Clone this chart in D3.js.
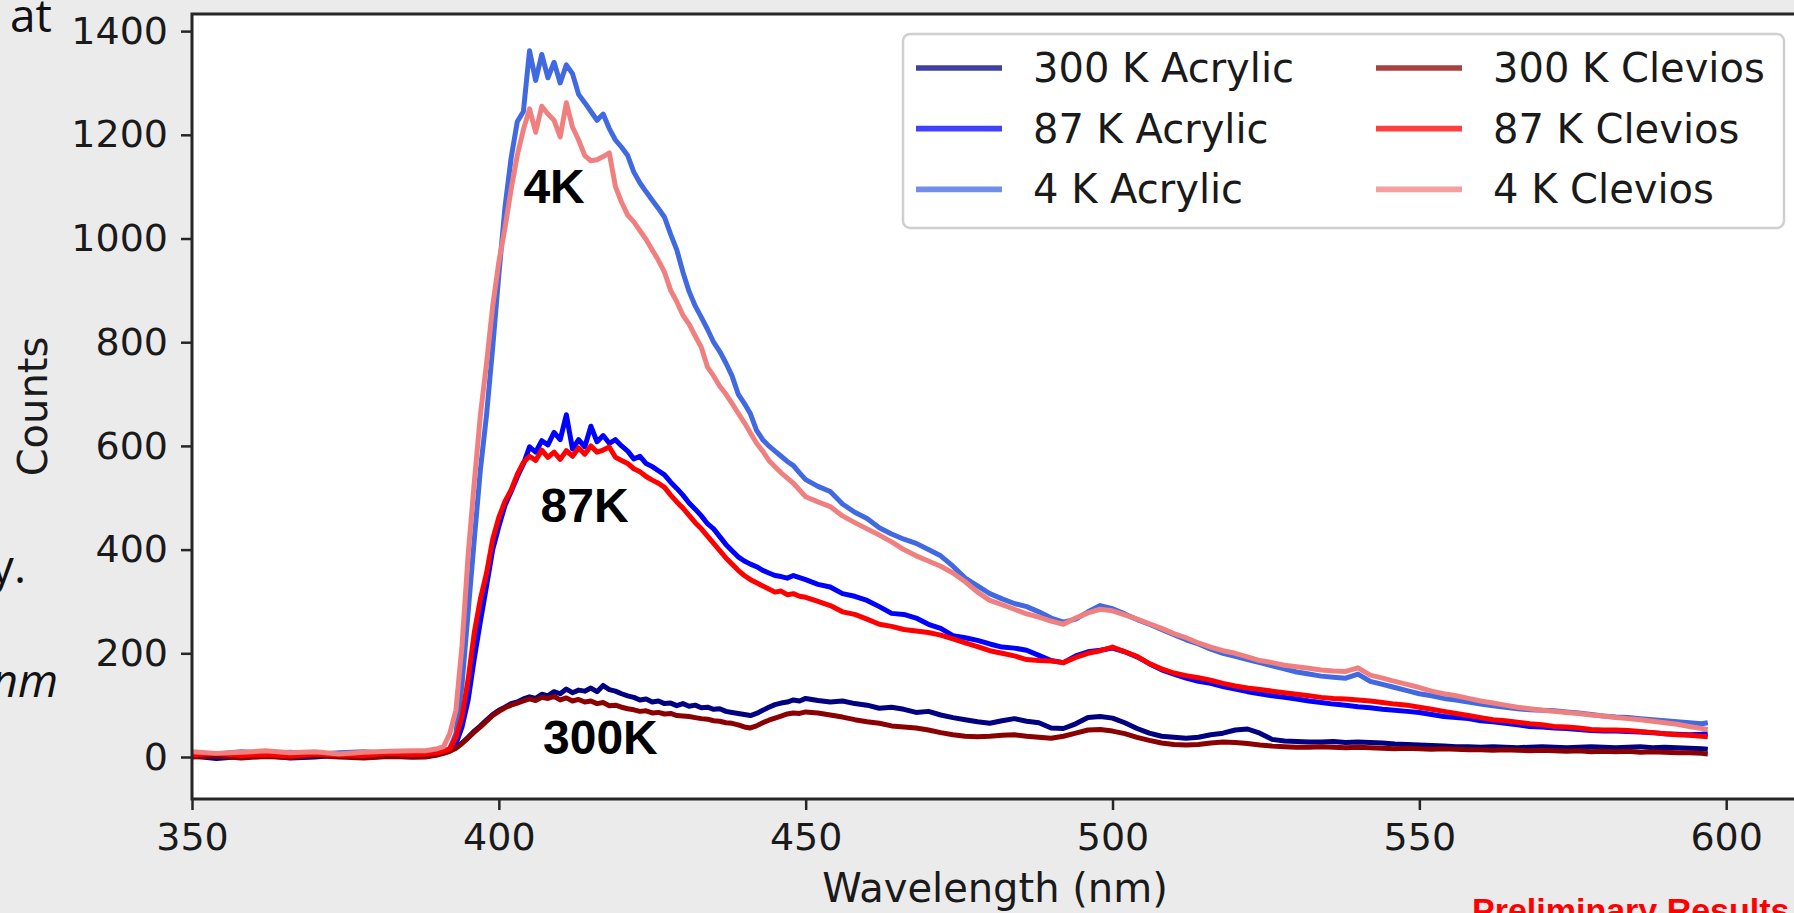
<!DOCTYPE html>
<html>
  <head>
    <meta charset="utf-8" />
    <title>Scintillation spectra</title>
    <script src="https://cdn.jsdelivr.net/npm/d3@7"></script>
    <style>
      html, body { margin: 0; padding: 0; background: #ebebeb; overflow: hidden; }
      svg { display: block; }
      .axis text { font-family: 'DejaVu Sans'; font-size: 38px; fill: #1a1a1a; }
      .axis-label { font-family: 'DejaVu Sans'; font-size: 40px; fill: #1a1a1a; }
      .legend text { font-family: 'DejaVu Sans'; font-size: 40px; fill: #1a1a1a; }
      .slide { font-family: 'Open Sans'; font-size: 46px; fill: #111; }
    </style>
  </head>
  <body>
    <svg id="chart"></svg>
    <script>
      const width = 1794
      const height = 913
      // axes box (the right edge runs just past the window)
      const box = {left: 192, right: 1798, top: 14, bottom: 799}

      const wavelengths = [
        350, 354, 358, 362, 366, 370, 374, 378, 382, 386,
        388, 389, 390, 391, 392, 393, 394, 395, 396, 397,
        398, 399, 400, 401, 402, 403, 404, 405, 406, 407,
        408, 409, 410, 411, 412, 413, 414, 415, 416, 417,
        418, 419, 420, 421, 422, 423, 424, 425, 426, 427,
        428, 429, 430, 431, 432, 433, 434, 435, 436, 437,
        438, 439, 440, 441, 442, 443, 444, 445, 446, 447,
        448, 449, 450,
        452, 454, 456, 458, 460, 462, 464, 466, 468, 470,
        472, 474, 476, 478, 480, 482, 484, 486, 488, 490,
        492, 494, 496, 498, 500, 502, 504, 506, 508, 510,
        512, 514, 516, 518, 520, 522, 524, 526, 528, 530,
        532, 534, 536, 538, 540, 542, 544, 546, 548, 550,
        552, 554, 556, 558, 560, 562, 564, 566, 568, 570,
        572, 574, 576, 578, 580, 582, 584, 586, 588, 590,
        592, 594, 596, 597
      ]

      const acrylic300 = [
        2, -3, 1, 3, -2, 0, 4, -1, 2, 0,
        1, 3, 5, 8, 12, 18, 27, 38, 50, 60,
        71, 82, 90, 96, 103, 106, 112, 116, 113, 121,
        118, 126, 122, 131, 124, 129, 127, 133, 126, 138,
        130, 127, 122, 118, 115, 110, 112, 106, 108, 103,
        104, 99, 103, 98, 100, 95, 96, 92, 93, 88,
        86, 84, 82, 80, 84, 90, 96, 101, 104, 106,
        110, 108, 113,
        109, 106, 108, 103, 100, 94, 96, 92, 86, 88,
        81, 76, 72, 68, 65, 70, 74, 69, 66, 56,
        55, 64, 76, 78, 75, 66, 55, 46, 40, 38,
        36, 38, 43, 46, 52, 54, 46, 34, 31, 30,
        29, 29, 30, 28, 29, 28, 27, 25, 24, 23,
        22, 21, 20, 20, 19, 20, 19, 18, 19, 20,
        19, 18, 19, 20, 19, 18, 19, 20, 18, 19,
        18, 17, 16, 15
      ]

      const acrylic87 = [
        5, 3, 6, 4, 7, 3, 5, 6, 4, 6,
        5, 6, 7, 9, 13, 25, 58, 110, 190, 262,
        330, 400, 445, 485, 512, 540, 565, 598, 588, 610,
        602, 626, 612, 660, 594, 612, 598, 638, 608, 620,
        605, 612, 600, 590, 575, 580, 566, 560, 552, 544,
        530, 518, 505, 490, 478, 465, 450, 440, 425, 410,
        398, 386, 378, 372, 367, 360, 355, 350, 348, 345,
        350, 346, 342,
        333, 328, 315, 310, 302, 290, 277, 275, 268, 256,
        248, 234, 230, 225, 218, 212, 210, 206, 196, 186,
        182, 195, 203, 206, 210, 203, 193, 180, 168, 160,
        152, 146, 142, 136, 131, 126, 122, 118, 115, 112,
        108, 105, 102, 100, 97, 95, 92, 90, 88, 86,
        82, 78, 76, 74, 70, 68, 65, 62, 59, 58,
        56, 55, 53, 51, 50, 50, 49, 48, 47, 45,
        44, 43, 44, 45
      ]

      const acrylic4 = [
        8, 6, 10, 7, 9, 5, 8, 10, 7, 9,
        8, 9, 10, 12, 16, 45, 140, 280, 420, 555,
        660, 790, 930, 1060, 1155, 1225, 1245, 1362, 1305, 1355,
        1310, 1340, 1300, 1335, 1318, 1278, 1262, 1245, 1228, 1240,
        1212, 1190, 1176, 1160, 1128, 1107, 1090, 1074, 1058, 1041,
        1008, 978, 935, 898, 870, 848, 825, 800, 782, 760,
        735, 700, 682, 662, 630, 612, 600, 590, 580, 570,
        562, 548, 535,
        522, 512, 488, 472, 460, 442, 430, 420, 412, 400,
        388, 368, 345, 330, 315, 305, 296, 290, 280, 268,
        260, 266, 280, 292, 286, 276, 265, 256, 246, 236,
        226, 218, 208, 200, 194, 188, 182, 176, 170, 164,
        160, 156, 154, 152, 160, 146, 140, 134, 128, 122,
        118, 113, 110, 106, 102, 99, 96, 93, 91, 90,
        89, 87, 85, 82, 79, 77, 76, 74, 72, 70,
        68, 66, 64, 66
      ]

      const clevios300 = [
        0, 2, -2, 1, -1, 3, 0, -2, 1, 0,
        0, 2, 4, 7, 11, 17, 26, 37, 48, 58,
        69, 80, 88, 95, 100, 104, 108, 112, 109, 115,
        113, 117, 110, 114, 108, 111, 106, 108, 103, 105,
        99, 100, 96, 93, 91, 88, 89, 85, 86, 83,
        84, 80, 79, 78, 76, 74, 73, 70, 69, 66,
        65, 62, 58, 56, 60, 66, 71, 75, 79, 83,
        85, 84, 87,
        85, 81, 77, 72, 68, 65, 60, 58, 56, 52,
        47, 43, 40, 39, 40, 42, 43, 40, 38, 36,
        40, 46, 52, 53, 50, 45, 38, 32, 27, 24,
        23, 24, 27, 29, 28, 26, 23, 21, 20, 19,
        19, 20, 19, 18, 19, 18, 17, 16, 17, 16,
        15, 16, 15, 14, 14, 13, 14, 13, 12, 13,
        12, 11, 12, 10, 11, 10, 11, 9, 10, 9,
        8, 8, 7, 6
      ]

      const clevios87 = [
        4, 7, 3, 5, 2, 6, 4, 3, 7, 5,
        6, 7, 8, 11, 16, 38, 78, 150, 240, 305,
        355, 420, 462, 493, 515, 545, 568, 580, 572, 592,
        578, 588, 574, 591, 580, 596, 584, 600, 588, 592,
        598, 578, 572, 566, 556, 550, 541, 534, 528, 520,
        505, 492, 480, 466, 452, 440, 426, 412, 398, 384,
        372, 360, 350, 342, 336, 330, 324, 318, 320, 313,
        315, 310, 308,
        300, 292, 280, 275, 266, 256, 252, 246, 243, 240,
        235, 228, 220, 213, 205, 200, 195, 188, 186, 185,
        182, 192, 200, 205, 212, 203, 194, 180, 170, 162,
        157, 153, 148, 142, 137, 133, 130, 127, 124, 121,
        118, 115, 113, 112, 110, 108, 105, 102, 100, 96,
        92, 88, 84, 80, 76, 72, 70, 67, 64, 62,
        59, 58, 56, 53, 52, 52, 51, 49, 47, 45,
        43, 42, 40, 39
      ]

      const clevios4 = [
        10, 7, 9, 12, 8, 10, 6, 9, 11, 12,
        12, 14, 16, 20, 45, 90, 215, 390, 530, 660,
        760, 870, 955, 1020, 1095, 1160, 1210, 1250, 1205, 1255,
        1240, 1228, 1196, 1262, 1215, 1190, 1160, 1150, 1152, 1158,
        1165, 1100, 1070, 1045, 1032, 1015, 998, 978, 958, 935,
        900, 878, 852, 835, 812, 790, 752, 735, 715, 700,
        682, 663, 645, 625, 605, 590, 572, 560, 548, 538,
        528, 515, 502,
        492, 483, 465, 452, 440, 428, 415, 400, 388, 378,
        368, 355, 338, 318, 302, 294, 285, 276, 270, 262,
        256, 268, 278, 285, 282, 274, 266, 257, 248, 238,
        230, 220, 212, 205, 200, 193, 186, 182, 177, 174,
        171, 168, 166, 165, 172, 158, 152, 146, 140, 134,
        127, 122, 118, 113, 108, 104, 100, 96, 93, 90,
        88, 86, 84, 81, 79, 76, 74, 72, 69, 66,
        63, 59, 55, 53
      ]

      const seriesNames = [
        "300 K Acrylic", "87 K Acrylic", "4 K Acrylic",
        "300 K Clevios", "87 K Clevios", "4 K Clevios"
      ]
      const seriesValues = [acrylic300, acrylic87, acrylic4, clevios300, clevios87, clevios4]
      const seriesColors = ["#000080", "#0000ff", "#4169e1", "#8b0000", "#ff0000", "#f08080"]

      const yTicks = [0, 200, 400, 600, 800, 1000, 1200, 1400]
      const xTicks = [350, 400, 450, 500, 550, 600]

      const annotations = [
        {text: "4K", nm: 404.0, counts: 1068},
        {text: "87K", nm: 406.8, counts: 453},
        {text: "300K", nm: 407.2, counts: 6}
      ]

      const x = d3.scaleLinear()
        .domain([350, 611.7])
        .range([box.left, box.right])

      const y = d3.scaleLinear()
        .domain([-81, 1433])
        .range([box.bottom, box.top])

      const svg = d3.select("#chart")
        .attr("width", width)
        .attr("height", height)

      // bits of the slide that peek out from behind the plot
      svg.append("text").attr("class", "slide")
        .attr("x", 10).attr("y", 32).text("at")
      svg.append("text").attr("class", "slide")
        .attr("x", 26).attr("y", 583).attr("text-anchor", "end").text("y.")
      svg.append("text").attr("class", "slide")
        .attr("x", 58).attr("y", 697).attr("text-anchor", "end")
        .style("font-style", "italic").text("nm")

      svg.append("text")
        .attr("x", 1472).attr("y", 922)
        .style("font-family", "'Liberation Sans', Arial, sans-serif")
        .style("font-weight", "bold")
        .style("font-size", "34px")
        .style("fill", "#ff0000")
        .text("Preliminary Results")

      svg.append("rect")
        .attr("x", box.left).attr("y", box.top)
        .attr("width", box.right - box.left)
        .attr("height", box.bottom - box.top)
        .attr("fill", "white")

      svg.append("clipPath").attr("id", "plot-clip")
        .append("rect")
        .attr("x", box.left).attr("y", box.top)
        .attr("width", box.right - box.left)
        .attr("height", box.bottom - box.top)

      const line = d3.line()
        .x(d => x(d[0]))
        .y(d => y(d[1]))

      svg.append("g")
        .attr("clip-path", "url(#plot-clip)")
        .selectAll("path")
        .data(seriesValues)
        .join("path")
          .attr("d", vals => line(wavelengths.map((w, i) => [w, vals[i]])))
          .attr("fill", "none")
          .attr("stroke", (d, i) => seriesColors[i])
          .attr("stroke-width", 5)
          .attr("stroke-linejoin", "round")

      svg.append("g")
        .attr("class", "axis y-axis")
        .attr("transform", `translate(${box.left},0)`)
        .call(d3.axisLeft(y).tickValues(yTicks).tickFormat(d3.format("d")).tickSize(11).tickPadding(13))
        .call(g => g.select(".domain").remove())
        .call(g => g.selectAll(".tick line").attr("stroke", "#262626").attr("stroke-width", 2.5))

      svg.append("g")
        .attr("class", "axis x-axis")
        .attr("transform", `translate(0,${box.bottom})`)
        .call(d3.axisBottom(x).tickValues(xTicks).tickFormat(d3.format("d")).tickSize(11).tickPadding(13))
        .call(g => g.select(".domain").remove())
        .call(g => g.selectAll(".tick line").attr("stroke", "#262626").attr("stroke-width", 2.5))

      // spines
      svg.append("path")
        .attr("d", `M${box.right + 5},${box.top}H${box.left}V${box.bottom}H${box.right + 5}`)
        .attr("fill", "none")
        .attr("stroke", "#262626")
        .attr("stroke-width", 3)

      svg.append("text")
        .attr("class", "axis-label")
        .attr("x", 995).attr("y", 902)
        .attr("text-anchor", "middle")
        .text("Wavelength (nm)")

      svg.append("text")
        .attr("class", "axis-label")
        .attr("transform", `translate(47,${(box.top + box.bottom) / 2}) rotate(-90)`)
        .attr("text-anchor", "middle")
        .text("Counts")

      svg.append("g")
        .selectAll("text")
        .data(annotations)
        .join("text")
          .attr("x", d => x(d.nm))
          .attr("y", d => y(d.counts))
          .style("font-family", "'Liberation Sans', Arial, sans-serif")
          .style("font-weight", "bold")
          .style("font-size", "48px")
          .style("fill", "#000")
          .text(d => d.text)

      const legend = svg.append("g").attr("class", "legend")

      legend.append("rect")
        .attr("x", 903).attr("y", 34)
        .attr("width", 881).attr("height", 194)
        .attr("rx", 7)
        .attr("fill", "white")
        .attr("fill-opacity", 0.8)
        .attr("stroke", "#cfcfcf")
        .attr("stroke-width", 2.5)

      const entry = legend.selectAll("g.entry")
        .data(seriesNames)
        .join("g")
          .attr("class", "entry")
          .attr("transform", (d, i) => `translate(${i < 3 ? 916 : 1376},${68 + (i % 3) * 60.7})`)

      entry.append("line")
        .attr("x1", 0).attr("x2", 86)
        .attr("stroke", (d, i) => seriesColors[i])
        .attr("stroke-opacity", 0.75)
        .attr("stroke-width", 5.7)

      entry.append("text")
        .attr("x", 117)
        .attr("y", 14)
        .text(d => d)
    </script>
  </body>
</html>
